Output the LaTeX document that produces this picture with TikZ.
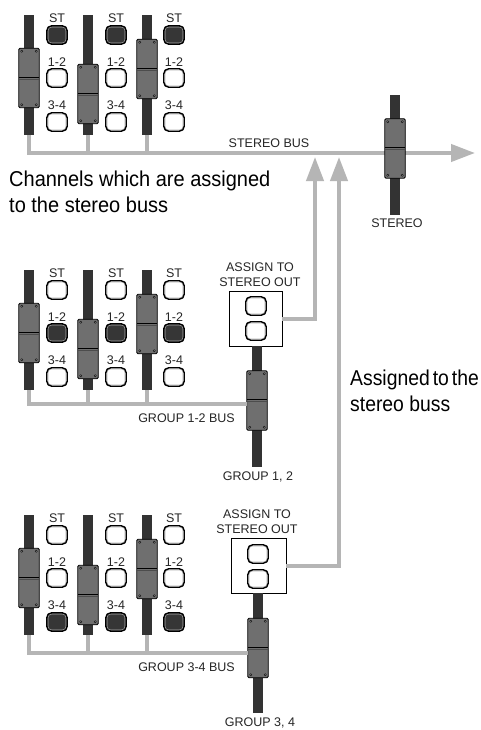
\documentclass[tikz,border=0pt]{standalone}
\usepackage{fontspec}
\setmainfont{Liberation Sans}
\newfontfamily\bigfont[FakeStretch=0.93]{Liberation Sans}
\newfontfamily\bigfontR[FakeStretch=0.9]{Liberation Sans}
\usetikzlibrary{arrows.meta}
\definecolor{busc}{HTML}{B5B5B5}
\definecolor{trackc}{HTML}{333333}
\definecolor{capc}{HTML}{6F6F6F}
\definecolor{litc}{HTML}{363636}
\tikzset{
  trk/.style={fill=trackc, minimum width=10pt, inner sep=0pt, outer sep=0pt},
  capst/.style={draw=black, fill=capc, line width=0.8pt, rounded corners=1.2pt,
    minimum width=20.5pt, minimum height=59.5pt, inner sep=0pt, outer sep=0pt},
  screw/.style={draw=black, fill=capc!70!white, line width=0.45pt},
  btnst/.style={draw=black, line width=1.4pt, rounded corners=5pt,
    minimum width=20.5pt, minimum height=18.5pt, inner sep=0pt,
    path picture={\draw[gray!60, line width=0.7pt, rounded corners=3.5pt]
      ([shift={(1.2pt,-1.2pt)}]path picture bounding box.north west) rectangle
      ([shift={(-1.2pt,1.2pt)}]path picture bounding box.south east);}},
  lit/.style={fill=litc},
  unlit/.style={fill=white},
  lbl/.style={font=\fontsize{12.5}{15}\selectfont, inner sep=0pt, text=black!85},
  bus/.style={draw=busc, line width=4pt},
  busarrow/.style={bus, -{Triangle[length=24pt,width=17pt]}},
  abox/.style={draw=black, fill=white, line width=0.9pt, minimum width=53pt,
    minimum height=55pt, inner sep=0pt, outer sep=0pt},
  bigtxt/.style={font=\bigfont\fontsize{21.5}{26}\selectfont, inner sep=0pt, align=left},
  bigtxtR/.style={font=\bigfontR\fontsize{21.5}{26}\selectfont, inner sep=0pt, align=left},
}
% fader: name, x, track top, track bottom, cap centre y
\newcommand\fader[5]{%
  \node[trk, minimum height={(#4)-(#3)}] (#1t) at (#2,{((#3)+(#4))/2}) {};
  \node[capst] (#1) at (#2,{#5}) {};
  \foreach \a/\sx/\sy in {north west/3/-3, north east/-3/-3, south west/3/3, south east/-3/3}
    \draw[screw] ([shift={(\sx pt,\sy pt)}]#1.\a) circle (1.1pt);
  \draw[black, line width=0.7pt] ([yshift=1pt]#1.west) -- ([yshift=1pt]#1.east);
  \draw[black!70, line width=0.6pt] ([yshift=-1pt]#1.west) -- ([yshift=-1pt]#1.east);
}
% channel section: prefix, dy, cap centres (3), active row
\newcommand\chsec[6]{%
  \fader{#1a}{29}{15+#2}{135+#2}{#3}
  \fader{#1b}{88}{15+#2}{135+#2}{#4}
  \fader{#1c}{147}{15+#2}{135+#2}{#5}
  \foreach \cx/\cn in {57/a,116/b,174/c}{
    \foreach \ry/\ly/\tx/\rn in {35/18/ST/1,78/62/1-2/2,122/105/3-4/3}{
      \ifnum\rn=#6\relax\def\bst{lit}\else\def\bst{unlit}\fi
      \node[btnst,\bst] (#1\cn btn\rn) at (\cx,{\ry+#2}) {};
      \node[lbl] (#1\cn lbl\rn) at (\cx,{\ly+#2}) {\tx};
    }}
}
\begin{document}
\begin{tikzpicture}[x=1pt,y=-1pt]
\useasboundingbox (0,0) rectangle (480,730);
\fill[white] (0,0) rectangle (480,730);

% channel sections
\chsec{s}{0}{78}{94}{69}{1}
\chsec{m}{255}{333}{349}{324}{2}
\chsec{b}{500}{578}{595}{569}{3}

% assign boxes and group faders
\node[abox] (aA) at (255.5,318.5) {};
\node[btnst,unlit] (aAb1) at (256,306) {};
\node[btnst,unlit] (aAb2) at (256,331) {};
\node[lbl, align=center] (aAl) at (260,274.5) {ASSIGN TO\\STEREO OUT};
\fader{gA}{257}{346}{467}{400.5}

\node[abox, minimum width=55pt] (aB) at (258.5,565.5) {};
\node[btnst,unlit] (aBb1) at (258,554) {};
\node[btnst,unlit] (aBb2) at (258,579) {};
\node[lbl, align=center] (aBl) at (257,521.5) {ASSIGN TO\\STEREO OUT};
\fader{gB}{258}{593}{713}{648}

% assign-to-stereo connectors
\coordinate (upA) at (315,157);
\coordinate (upB) at (339,157);
\draw[busarrow] (aA.east) -| (upA);
\draw[busarrow] (aB.east) -| (upB);

% stereo bus
\coordinate (sbend) at (475,153);
\draw[busarrow] (sat.south) |- (sbend);
\foreach \n in {b,c} \draw[bus] (s\n t.south) -- (s\n t.south |- sbend);
\fader{sf}{395}{95}{215}{148.5}

% group busses
\coordinate (mbus) at (29,404);
\draw[bus] (mat.south) -- (mbus) -- (mbus -| gA.west);
\foreach \n in {b,c} \draw[bus] (m\n t.south) -- (m\n t.south |- mbus);
\coordinate (bbus) at (29,653);
\draw[bus] (bat.south) -- (bbus) -- (bbus -| gB.west);
\foreach \n in {b,c} \draw[bus] (b\n t.south) -- (b\n t.south |- bbus);

% labels
\node[lbl] (lsb) at (269,143) {STEREO BUS};
\node[lbl] (lst) at (397,223) {STEREO};
\node[lbl, anchor=east] (lg12) at (235,418) {GROUP 1-2 BUS};
\node[lbl] (lgA) at (258,477) {GROUP 1, 2};
\node[lbl, anchor=east] (lg34) at (235,667) {GROUP 3-4 BUS};
\node[lbl] (lgB) at (260,723) {GROUP 3, 4};

\node[bigtxt, anchor=north west] (txt1) at (9,170.5) {Channels which are assigned\\to the stereo buss};
\node[bigtxtR, anchor=north west] (txt2) at (350,369.5) {\spaceskip=3pt Assigned to the\\stereo buss};
\end{tikzpicture}
\end{document}
